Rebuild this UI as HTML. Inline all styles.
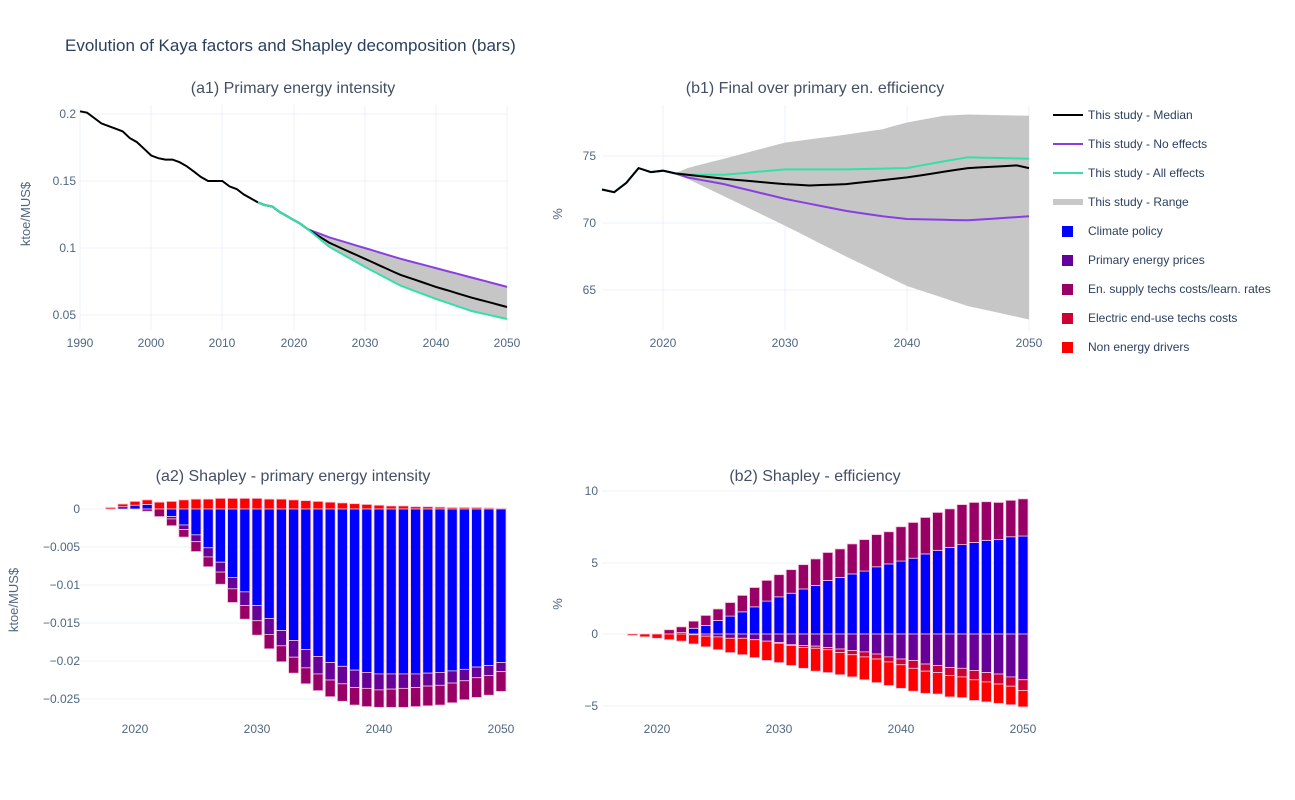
<!DOCTYPE html>
<html><head><meta charset="utf-8"><style>
body{margin:0;background:#fff;}
svg{display:block;font-family:"Liberation Sans","DejaVu Sans",sans-serif;}
.t{fill:#506784;font-size:12px;}
.st{fill:#444f66;font-size:16px;}
.lg{fill:#2a3f5f;font-size:12px;}
</style></head><body>
<svg id="s" width="1295" height="800" viewBox="0 0 1295 800">
<rect width="1295" height="800" fill="#fff"/>
<g id="grid"></g>
<g id="data"></g>
<text x="65" y="51" style="font-size:17px;fill:#2a3f5f">Evolution of Kaya factors and Shapley decomposition (bars)</text>
<text class="st" x="293" y="93" text-anchor="middle">(a1) Primary energy intensity</text>
<text class="st" x="815" y="93" text-anchor="middle">(b1) Final over primary en. efficiency</text>
<text class="st" x="293" y="481" text-anchor="middle">(a2) Shapley - primary energy intensity</text>
<text class="st" x="815" y="481" text-anchor="middle">(b2) Shapley - efficiency</text>
<!-- a1 ticks -->
<g class="t" text-anchor="end">
<text x="76" y="118">0.2</text><text x="76" y="185">0.15</text><text x="76" y="252">0.1</text><text x="76" y="319">0.05</text>
<text x="596" y="160">75</text><text x="596" y="227">70</text><text x="596" y="294">65</text>
<text x="80" y="513">0</text><text x="80" y="551">−0.005</text><text x="80" y="589">−0.01</text><text x="80" y="627">−0.015</text><text x="80" y="665">−0.02</text><text x="80" y="703">−0.025</text>
<text x="598" y="495">10</text><text x="598" y="567">5</text><text x="598" y="638">0</text><text x="598" y="710">−5</text>
</g>
<g class="t" text-anchor="middle">
<text x="80" y="347">1990</text><text x="151" y="347">2000</text><text x="222" y="347">2010</text><text x="294" y="347">2020</text><text x="365" y="347">2030</text><text x="436" y="347">2040</text><text x="507" y="347">2050</text>
<text x="663" y="347">2020</text><text x="785" y="347">2030</text><text x="907" y="347">2040</text><text x="1029" y="347">2050</text>
<text x="135" y="733">2020</text><text x="257" y="733">2030</text><text x="379" y="733">2040</text><text x="501" y="733">2050</text>
<text x="657" y="733">2020</text><text x="779" y="733">2030</text><text x="901" y="733">2040</text><text x="1023" y="733">2050</text>
</g>
<text class="t" style="font-size:13px" transform="translate(30,214) rotate(-90)" text-anchor="middle">ktoe/MUS$</text>
<text class="t" style="font-size:13px" transform="translate(562,214) rotate(-90)" text-anchor="middle">%</text>
<text class="t" style="font-size:13px" transform="translate(18,600) rotate(-90)" text-anchor="middle">ktoe/MUS$</text>
<text class="t" style="font-size:13px" transform="translate(562,604) rotate(-90)" text-anchor="middle">%</text>
<!-- legend -->
<g>
<line x1="1053" y1="115" x2="1083" y2="115" stroke="#000" stroke-width="2"/>
<line x1="1053" y1="144" x2="1083" y2="144" stroke="#8a3ee0" stroke-width="2"/>
<line x1="1053" y1="173" x2="1083" y2="173" stroke="#33e0a8" stroke-width="2"/>
<line x1="1053" y1="202" x2="1083" y2="202" stroke="#c8c8c8" stroke-width="6"/>
<rect x="1062" y="226" width="11" height="11" fill="#0000ff"/>
<rect x="1062" y="255" width="11" height="11" fill="#660099"/>
<rect x="1062" y="284" width="11" height="11" fill="#990066"/>
<rect x="1062" y="313" width="11" height="11" fill="#cc0033"/>
<rect x="1062" y="342" width="11" height="11" fill="#ff0000"/>
<g class="lg">
<text x="1088" y="119">This study - Median</text>
<text x="1088" y="148">This study - No effects</text>
<text x="1088" y="177">This study - All effects</text>
<text x="1088" y="206">This study - Range</text>
<text x="1088" y="235">Climate policy</text>
<text x="1088" y="264">Primary energy prices</text>
<text x="1088" y="293">En. supply techs costs/learn. rates</text>
<text x="1088" y="322">Electric end-use techs costs</text>
<text x="1088" y="351">Non energy drivers</text>
</g></g>
</svg>
<script>
var NS="http://www.w3.org/2000/svg";
function el(p,t,a){var e=document.createElementNS(NS,t);for(var k in a)e.setAttribute(k,a[k]);document.getElementById(p).appendChild(e);return e;}
// grids
[114,181,248,315].forEach(y=>el("grid","line",{x1:80,x2:507,y1:y,y2:y,stroke:"#ebf0f8"}));
[80,151,222,294,365,436,507].forEach(x=>el("grid","line",{x1:x,x2:x,y1:105,y2:330,stroke:"#ebf0f8"}));
[156,223,290].forEach(y=>el("grid","line",{x1:602,x2:1029,y1:y,y2:y,stroke:"#ebf0f8"}));
[663,785,907,1029].forEach(x=>el("grid","line",{x1:x,x2:x,y1:105,y2:330,stroke:"#ebf0f8"}));
[509,547,585,623,661,699].forEach(y=>el("grid","line",{x1:80,x2:507,y1:y,y2:y,stroke:"#ebf0f8"}));
[491,563,634,706].forEach(y=>el("grid","line",{x1:602,x2:1029,y1:y,y2:y,stroke:"#ebf0f8"}));
function interp(pts,x){for(var i=0;i<pts.length-1;i++){if(x<=pts[i+1][0]){var a=pts[i],b=pts[i+1];return a[1]+(b[1]-a[1])*(x-a[0])/(b[0]-a[0]);}}return pts[pts.length-1][1];}
function series(pts,x0,x1,step){var r=[];for(var x=x0;x<=x1+1e-9;x+=step)r.push([x,interp(pts,x)]);return r;}
// a1
var ax=y=>80+(y-1990)*7.117, ay=v=>114+(0.2-v)*1340;
var blk=[[1990,.202],[1991,.201],[1992,.197],[1993,.193],[1994,.191],[1995,.189],[1996,.187],[1997,.182],[1998,.179],[1999,.174],[2000,.169],[2001,.167],[2002,.166],[2003,.166],[2004,.164],[2005,.161],[2006,.157],[2007,.153],[2008,.150],[2009,.150],[2010,.150],[2011,.146],[2012,.144],[2013,.140],[2014,.137],[2015,.134]];
var com=[[2015,.134],[2016,.132],[2017,.131],[2018,.127],[2019,.124],[2020,.121],[2021,.118],[2022,.114]];
var pu=com.concat([[2025,.108],[2030,.100],[2035,.092],[2040,.085],[2045,.078],[2050,.071]]);
var md=com.concat([[2025,.104],[2030,.092],[2035,.080],[2040,.071],[2045,.063],[2050,.056]]);
var te=com.concat([[2025,.101],[2030,.086],[2035,.072],[2040,.062],[2045,.053],[2050,.047]]);
function pl(pts,fx,fy){return pts.map(p=>fx(p[0]).toFixed(1)+","+fy(p[1]).toFixed(1)).join(" ");}
var up=series(pu,2015,2050,1).map(p=>[p[0],p[1]+(p[0]>2022?0.0005:0)]), lo=series(te,2015,2050,1);
el("data","polygon",{points:pl(up,ax,ay)+" "+pl(lo.slice().reverse(),ax,ay),fill:"#c6c6c6"});
el("data","polyline",{points:pl(blk,ax,ay),fill:"none",stroke:"#000","stroke-width":2});
el("data","polyline",{points:pl(series(pu,2015,2050,1),ax,ay),fill:"none",stroke:"#8a3ee0","stroke-width":2});
el("data","polyline",{points:pl(series(md,2015,2050,1),ax,ay),fill:"none",stroke:"#000","stroke-width":2});
el("data","polyline",{points:pl(lo,ax,ay),fill:"none",stroke:"#33e0a8","stroke-width":2});
// b1
var bx=y=>663+(y-2020)*12.2, by=v=>156+(75-v)*13.4;
var c2=[[2015,72.5],[2016,72.3],[2017,73.0],[2018,74.1],[2019,73.8],[2020,73.9],[2021,73.7]];
var T=c2.concat([[2022,73.6],[2025,73.6],[2030,74.0],[2035,74.0],[2040,74.1],[2043,74.6],[2045,74.9],[2050,74.8]]);
var M=c2.concat([[2022,73.6],[2025,73.3],[2030,72.9],[2032,72.8],[2035,72.9],[2040,73.4],[2045,74.1],[2049,74.3],[2050,74.1]]);
var P=c2.concat([[2022,73.4],[2025,72.9],[2030,71.8],[2035,70.9],[2038,70.5],[2040,70.3],[2045,70.2],[2050,70.5]]);
var RU=c2.concat([[2022,74.1],[2025,74.8],[2030,76.0],[2035,76.6],[2038,77.0],[2040,77.5],[2043,78.0],[2045,78.1],[2050,78.0]]);
var RL=c2.concat([[2022,73.3],[2025,72.0],[2030,69.8],[2035,67.5],[2040,65.3],[2045,63.8],[2050,62.8]]);
el("data","polygon",{points:pl(series(RU,2015,2050,1),bx,by)+" "+pl(series(RL,2015,2050,1).reverse(),bx,by),fill:"#c6c6c6"});
el("data","polyline",{points:pl(series(P,2015,2050,1),bx,by),fill:"none",stroke:"#8a3ee0","stroke-width":2});
el("data","polyline",{points:pl(series(T,2015,2050,1),bx,by),fill:"none",stroke:"#33e0a8","stroke-width":2});
el("data","polyline",{points:pl(series(M,2015,2050,1),bx,by),fill:"none",stroke:"#000","stroke-width":2});
// bars
function bar(x,v0,v1,fy,c){var a=fy(v0),b=fy(v1);var t=Math.min(a,b),h=Math.abs(a-b);if(h<0.3)return;el("data","rect",{x:x-5,y:t,width:10,height:h,fill:c,stroke:"#f2c4dc","stroke-width":0.8});}
var A=[[2018,0.2,0,0,0,0],[2019,0.7,0.3,0,0,0],[2020,1.0,0.5,0,0,0],[2021,1.2,0.6,0,0,-0.3],[2022,0.9,0,0,0,-1.0],
[2023,1.0,-1.0,-1.3,0,-2.2],[2024,1.2,-2.1,-2.7,0,-3.7],[2025,1.3,-3.4,-4.3,0,-5.6],[2026,1.3,-5.1,-6.3,0,-7.6],[2027,1.4,-7.0,-8.3,0,-9.9],[2028,1.4,-9.0,-10.5,0,-12.3],[2029,1.4,-10.9,-12.7,0,-14.5],[2030,1.4,-12.7,-14.7,0,-16.6],[2031,1.3,-14.4,-16.5,0,-18.4],[2032,1.3,-16.0,-18.0,0,-20.1],[2033,1.2,-17.3,-19.5,0,-21.6],[2034,1.1,-18.5,-20.9,0,-23.0],[2035,1.0,-19.4,-21.7,0,-23.9],[2036,0.9,-20.2,-22.5,0,-24.7],[2037,0.8,-20.7,-23.0,0,-25.3],[2038,0.7,-21.2,-23.5,0,-25.8],[2039,0.6,-21.5,-23.6,0,-26.0],[2040,0.5,-21.7,-23.8,0,-26.1],[2041,0.4,-21.7,-23.7,0,-26.1],[2042,0.4,-21.7,-23.6,0,-26.1],[2043,0.3,-21.7,-23.5,0,-26.0],[2044,0.3,-21.6,-23.3,0,-25.9],[2045,0.25,-21.5,-23.2,0,-25.8],[2046,0.2,-21.3,-22.9,0,-25.5],[2047,0.2,-21.1,-22.6,0,-25.1],[2048,0.2,-20.8,-22.2,0,-24.8],[2049,0.15,-20.6,-21.9,0,-24.5],[2050,0.1,-20.2,-21.4,0,-24.0]];
var a2x=y=>135+(y-2020)*12.2, a2y=v=>509+(-v)*7.6;
A.forEach(r=>{var x=a2x(r[0]);
 var pos=0; if(r[2]>0){bar(x,0,r[2],a2y,"#0000ff");pos=r[2];} bar(x,pos,pos+r[1]*(r[2]>0?0.5:1),a2y,"#ff0000");
 var neg=0; if(r[2]<0){bar(x,0,r[2],a2y,"#0000ff");neg=r[2];}
 if(r[3]<0){bar(x,neg,r[3],a2y,"#660099");neg=r[3];}
 if(r[5]<0){bar(x,neg,r[5],a2y,"#990066");}
});
var B=[[2018,0,0,0,0,-0.1],[2019,0,0,0,0,-0.2],[2020,0,0,0,0,-0.3],[2021,0,0.3,0,0,-0.4],[2022,0.1,0.5,0,0,-0.5],[2023,0.4,0.9,-0.05,0,-0.7],[2024,0.6,1.3,-0.15,0,-0.9],[2025,0.95,1.75,-0.2,0,-1.1],[2026,1.25,2.2,-0.3,0,-1.3],[2027,1.55,2.7,-0.3,0,-1.45],[2028,1.9,3.25,-0.4,0,-1.65],[2029,2.3,3.75,-0.5,0,-1.85],[2030,2.6,4.15,-0.6,-0.65,-2.0],[2031,2.85,4.5,-0.75,-0.8,-2.2],[2032,3.15,4.85,-0.8,-0.95,-2.4],[2033,3.4,5.25,-0.85,-1.0,-2.6],[2034,3.75,5.7,-0.95,-1.1,-2.7],[2035,3.95,5.95,-1.05,-1.3,-2.85],[2036,4.2,6.3,-1.15,-1.45,-3.0],[2037,4.4,6.6,-1.25,-1.6,-3.2],[2038,4.7,6.95,-1.4,-1.75,-3.4],[2039,4.9,7.15,-1.6,-1.95,-3.6],[2040,5.1,7.5,-1.75,-2.15,-3.8],[2041,5.3,7.8,-1.85,-2.4,-4.0],[2042,5.6,8.15,-2.1,-2.6,-4.15],[2043,5.85,8.5,-2.2,-2.7,-4.2],[2044,6.05,8.75,-2.35,-2.9,-4.4],[2045,6.25,9.05,-2.4,-3.0,-4.45],[2046,6.4,9.2,-2.55,-3.2,-4.65],[2047,6.55,9.25,-2.7,-3.35,-4.75],[2048,6.6,9.2,-2.8,-3.5,-4.85],[2049,6.8,9.35,-3.0,-3.65,-4.95],[2050,6.85,9.45,-3.2,-3.95,-5.1]];
var b2x=y=>657+(y-2020)*12.2, b2y=v=>634-v*14.3;
B.forEach(r=>{var x=b2x(r[0]);
 bar(x,0,r[1],b2y,"#0000ff"); bar(x,r[1],r[2],b2y,"#990066");
 bar(x,0,r[3],b2y,"#660099"); var n=r[3]; if(r[4]<0){bar(x,n,r[4],b2y,"#cc0033");n=r[4];} bar(x,n,r[5],b2y,"#ff0000");
});
</script>
</body></html>
